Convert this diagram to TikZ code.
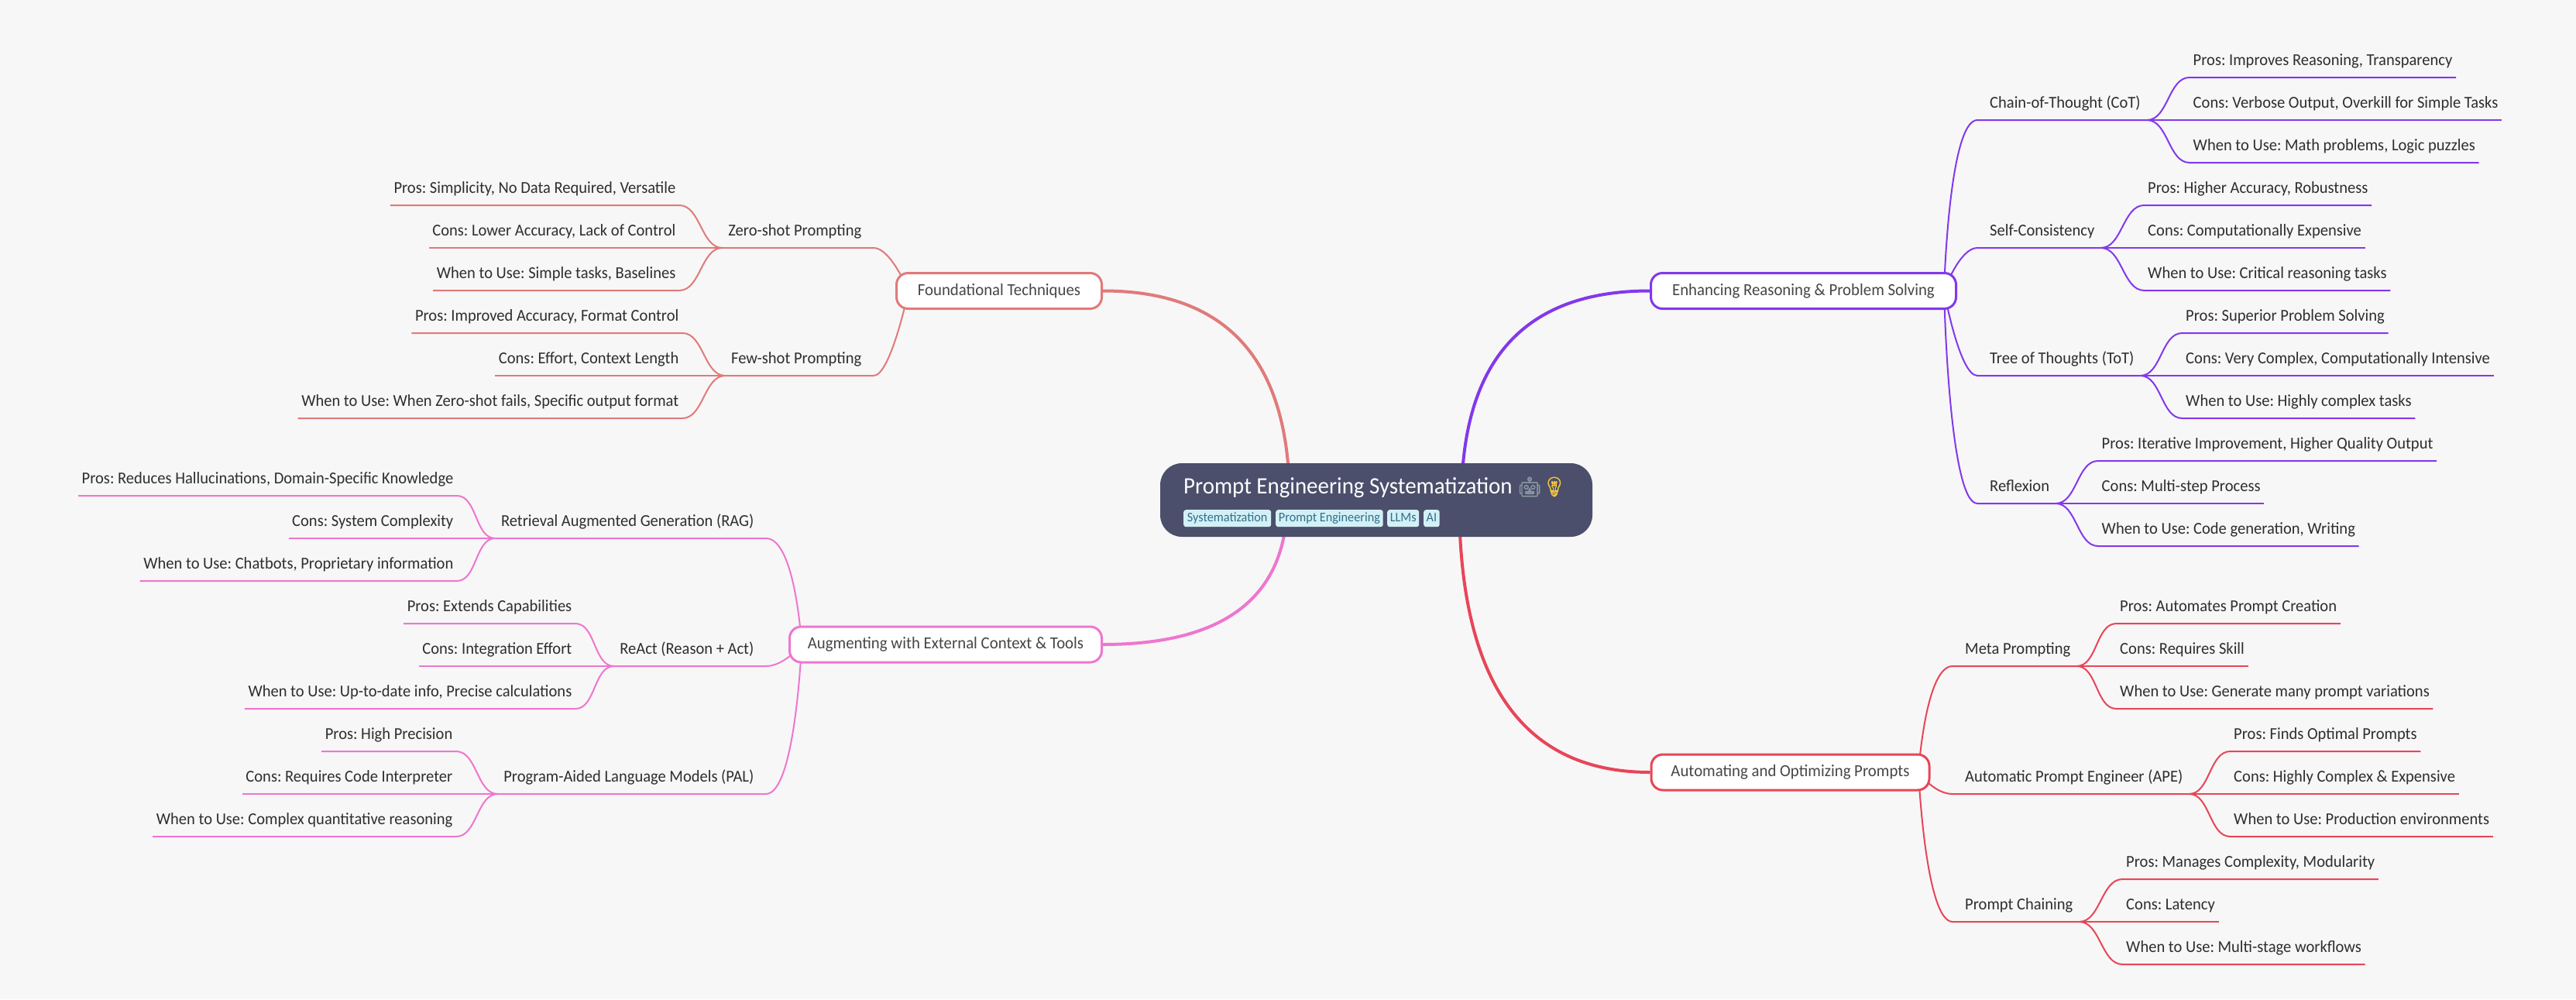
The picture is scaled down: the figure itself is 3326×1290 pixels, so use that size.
\documentclass[tikz,border=0pt]{standalone}
\usepackage{fontspec}
\setmainfont[FakeStretch=0.955]{Carlito}
\newfontfamily\emojifont[FakeBold=1.5]{Noto Emoji}
\usetikzlibrary{calc}
\pgfdeclarelayer{bg}
\pgfsetlayers{bg,main}
\definecolor{pagebg}{HTML}{F7F7F7}
\definecolor{cpurple}{HTML}{8338EC}
\definecolor{cred}{HTML}{E84558}
\definecolor{csalmon}{HTML}{E07A7A}
\definecolor{cpink}{HTML}{EE76CF}
\definecolor{rootfill}{HTML}{4C4F6B}
\definecolor{tagfill}{HTML}{D4F0F7}
\definecolor{tagtext}{HTML}{2F7089}
\definecolor{leaftext}{HTML}{2E2E2E}
\definecolor{maintext}{HTML}{464646}
\tikzset{
  leafnode/.style={inner xsep=4.5pt,inner ysep=0pt,text height=14pt,text depth=15pt,
    text=leaftext,font=\fontsize{21.5}{24}\selectfont},
  branchR/.style={inner xsep=0pt,inner ysep=0pt,text height=14pt,text depth=15pt,
    text=leaftext,font=\fontsize{21.5}{24}\selectfont,anchor=south west,
    execute at begin node={\hspace*{16pt}},execute at end node={\hspace*{8pt}}},
  branchL/.style={inner xsep=0pt,inner ysep=0pt,text height=14pt,text depth=15pt,
    text=leaftext,font=\fontsize{21.5}{24}\selectfont,anchor=south east,
    execute at begin node={\hspace*{7.5pt}},execute at end node={\hspace*{15.5pt}}},
  mainnode/.style={rounded corners=15pt,fill=white,line width=3pt,minimum height=46pt,
    inner sep=0pt,text=maintext,font=\fontsize{21.8}{24}\selectfont},
  thin link/.style={line width=2pt,line join=round},
  thick link/.style={line width=4pt},
  rootnode/.style={rounded corners=28pt,fill=rootfill,minimum width=558pt,minimum height=95pt,inner sep=0pt},
  titletext/.style={inner sep=0pt,text=white,font=\fontsize{30.3}{34}\selectfont},
  tagbox/.style={rounded corners=3pt,fill=tagfill,text=tagtext,minimum height=22pt,inner xsep=0pt,inner ysep=3pt,
    text height=12pt,text depth=4pt,anchor=north west,font=\fontsize{17}{20}\selectfont},
  sleaf/.style={out=180,in=0,looseness=.9},
  rleaf/.style={out=0,in=180,looseness=.9},
}
% right-hand leaf: connector from branch b to leaf
\newcommand{\leafR}[5]{%
  \node[leafnode,anchor=south west] (#2) at (#3,#4) {#5};
  \begin{pgfonlayer}{bg}
    \draw[thin link,draw=linkcol] (#1.south east) to[rleaf] (#2.south west) -- (#2.south east);
  \end{pgfonlayer}}
\newcommand{\leafL}[5]{%
  \node[leafnode,anchor=south east] (#2) at (#3,#4) {#5};
  \begin{pgfonlayer}{bg}
    \draw[thin link,draw=linkcol] (#1.south west) to[sleaf] (#2.south east) -- (#2.south west);
  \end{pgfonlayer}}
% branch to hub of a main node: #1 hub, #2 branch, #3 near anchor, #4 offset, #5 far anchor
\newcommand{\branchlink}[5]{%
  \begin{pgfonlayer}{bg}
    \draw[thin link,draw=linkcol] (#1) .. controls (#1) and ($(#2.#3)+(#4,0)$) .. (#2.#3) -- (#2.#5);
  \end{pgfonlayer}}
% quadratic trunk from root hub #1 to node anchor #2, as a cubic
\newcommand{\trunk}[3]{%
  \coordinate (corner) at (#1 |- #2);
  \begin{pgfonlayer}{bg}
    \draw[thick link,draw=#3] (#1) .. controls ($(#1)!.667!(corner)$) and ($(#2)!.667!(corner)$) .. (#2);
  \end{pgfonlayer}}
\begin{document}
\frenchspacing
\begin{tikzpicture}[x=1pt,y=-1pt]
\useasboundingbox (0,0) rectangle (3326,1290);
\begin{pgfonlayer}{bg}
  \fill[pagebg] (0,0) rectangle (3326,1290);
\end{pgfonlayer}

% root
\node[rootnode] (root) at (1777,645.5) {};
\node[titletext,anchor=base west] (title) at (1528,637) {Prompt Engineering Systematization {\emojifont\fontsize{25}{30}\selectfont\color[HTML]{8B9AA5}🤖\color[HTML]{F5C63C}💡}};
\node[tagbox,minimum width=113pt] (t1) at (1528,658) {Systematization};
\node[tagbox,minimum width=138.5pt] (t2) at (1647,658) {Prompt Engineering};
\node[tagbox,minimum width=41pt] (t3) at (1791,658) {LLMs};
\node[tagbox,minimum width=20.5pt] (t4) at (1838,658) {AI};

% main nodes
\node[mainnode,draw=csalmon,minimum width=265pt] (fou) at (1290,375.5) {Foundational Techniques};
\node[mainnode,draw=cpink,minimum width=403pt] (aug) at (1221,832) {Augmenting with External Context \& Tools};
\node[mainnode,draw=cpurple,minimum width=394pt] (enh) at (2328.5,375.5) {Enhancing Reasoning \& Problem Solving};
\node[mainnode,draw=cred,minimum width=359pt] (aut) at (2311.5,997) {Automating and Optimizing Prompts};

% hubs inside nodes
\coordinate (rF) at (1665,645.5);
\coordinate (rA) at (1662,645.5);
\coordinate (rE) at (1887,645.5);
\coordinate (rR) at (1884,645.5);
\coordinate (hF) at (1173,375.5);
\coordinate (hA) at (1035,832);
\coordinate (hE) at (2510,375.5);
\coordinate (hR) at (2477,997);

\trunk{rF}{fou.east}{csalmon}
\trunk{rA}{aug.east}{cpink}
\trunk{rE}{enh.west}{cpurple}
\trunk{rR}{aut.west}{cred}

% ---- Foundational
\colorlet{linkcol}{csalmon}
\node[branchL] (zero) at (1128,320) {Zero-shot Prompting};
\node[branchL] (few) at (1128,485) {Few-shot Prompting};
\branchlink{hF}{zero}{south east}{22}{south west}
\branchlink{hF}{few}{south east}{22}{south west}
\leafL{zero}{zp}{877}{265}{Pros: Simplicity, No Data Required, Versatile}
\leafL{zero}{zc}{877}{320}{Cons: Lower Accuracy, Lack of Control}
\leafL{zero}{zw}{877}{375}{When to Use: Simple tasks, Baselines}
\leafL{few}{fp}{881}{430}{Pros: Improved Accuracy, Format Control}
\leafL{few}{fc}{881}{485}{Cons: Effort, Context Length}
\leafL{few}{fw}{881}{540}{When to Use: When Zero-shot fails, Specific output format}

% ---- Augmenting
\colorlet{linkcol}{cpink}
\node[branchL] (rag) at (989,695) {Retrieval Augmented Generation (RAG)};
\node[branchL] (react) at (989,860) {ReAct (Reason + Act)};
\node[branchL] (pal) at (989,1025) {Program-Aided Language Models (PAL)};
\branchlink{hA}{rag}{south east}{38}{south west}
\branchlink{hA}{react}{south east}{24}{south west}
\branchlink{hA}{pal}{south east}{38}{south west}
\leafL{rag}{rp}{590}{640}{Pros: Reduces Hallucinations, Domain-Specific Knowledge}
\leafL{rag}{rc}{590}{695}{Cons: System Complexity}
\leafL{rag}{rw}{590}{750}{When to Use: Chatbots, Proprietary information}
\leafL{react}{ap}{743}{805}{Pros: Extends Capabilities}
\leafL{react}{ac}{743}{860}{Cons: Integration Effort}
\leafL{react}{aw}{743}{915}{When to Use: Up-to-date info, Precise calculations}
\leafL{pal}{pp}{589}{970}{Pros: High Precision}
\leafL{pal}{pc}{589}{1025}{Cons: Requires Code Interpreter}
\leafL{pal}{pw}{589}{1080}{When to Use: Complex quantitative reasoning}

% ---- Enhancing
\colorlet{linkcol}{cpurple}
\node[branchR] (cot) at (2553,155) {Chain-of-Thought (CoT)};
\node[branchR] (self) at (2553,320) {Self-Consistency};
\node[branchR] (tot) at (2553,485) {Tree of Thoughts (ToT)};
\node[branchR] (refl) at (2553,650) {Reflexion};
\branchlink{hE}{cot}{south west}{-37}{south east}
\branchlink{hE}{self}{south west}{-23}{south east}
\branchlink{hE}{tot}{south west}{-23}{south east}
\branchlink{hE}{refl}{south west}{-37}{south east}
\leafR{cot}{cp}{2827}{100}{Pros: Improves Reasoning, Transparency}
\leafR{cot}{cc}{2827}{155}{Cons: Verbose Output, Overkill for Simple Tasks}
\leafR{cot}{cw}{2827}{210}{When to Use: Math problems, Logic puzzles}
\leafR{self}{sp}{2768.5}{265}{Pros: Higher Accuracy, Robustness}
\leafR{self}{sc}{2768.5}{320}{Cons: Computationally Expensive}
\leafR{self}{sw}{2768.5}{375}{When to Use: Critical reasoning tasks}
\leafR{tot}{tp}{2817.5}{430}{Pros: Superior Problem Solving}
\leafR{tot}{tc}{2817.5}{485}{Cons: Very Complex, Computationally Intensive}
\leafR{tot}{tw}{2817.5}{540}{When to Use: Highly complex tasks}
\leafR{refl}{xp}{2709}{595}{Pros: Iterative Improvement, Higher Quality Output}
\leafR{refl}{xc}{2709}{650}{Cons: Multi-step Process}
\leafR{refl}{xw}{2709}{705}{When to Use: Code generation, Writing}

% ---- Automating
\colorlet{linkcol}{cred}
\node[branchR] (meta) at (2521,860) {Meta Prompting};
\node[branchR] (ape) at (2521,1025) {Automatic Prompt Engineer (APE)};
\node[branchR] (chain) at (2521,1190) {Prompt Chaining};
\branchlink{hR}{meta}{south west}{-35}{south east}
\branchlink{hR}{ape}{south west}{-24}{south east}
\branchlink{hR}{chain}{south west}{-35}{south east}
\leafR{meta}{mp}{2732.5}{805}{Pros: Automates Prompt Creation}
\leafR{meta}{mc}{2732.5}{860}{Cons: Requires Skill}
\leafR{meta}{mw}{2732.5}{915}{When to Use: Generate many prompt variations}
\leafR{ape}{ep}{2879.5}{970}{Pros: Finds Optimal Prompts}
\leafR{ape}{ec}{2879.5}{1025}{Cons: Highly Complex \& Expensive}
\leafR{ape}{ew}{2879.5}{1080}{When to Use: Production environments}
\leafR{chain}{hp}{2740.5}{1135}{Pros: Manages Complexity, Modularity}
\leafR{chain}{hc}{2740.5}{1190}{Cons: Latency}
\leafR{chain}{hw}{2740.5}{1245}{When to Use: Multi-stage workflows}
\end{tikzpicture}
\end{document}
